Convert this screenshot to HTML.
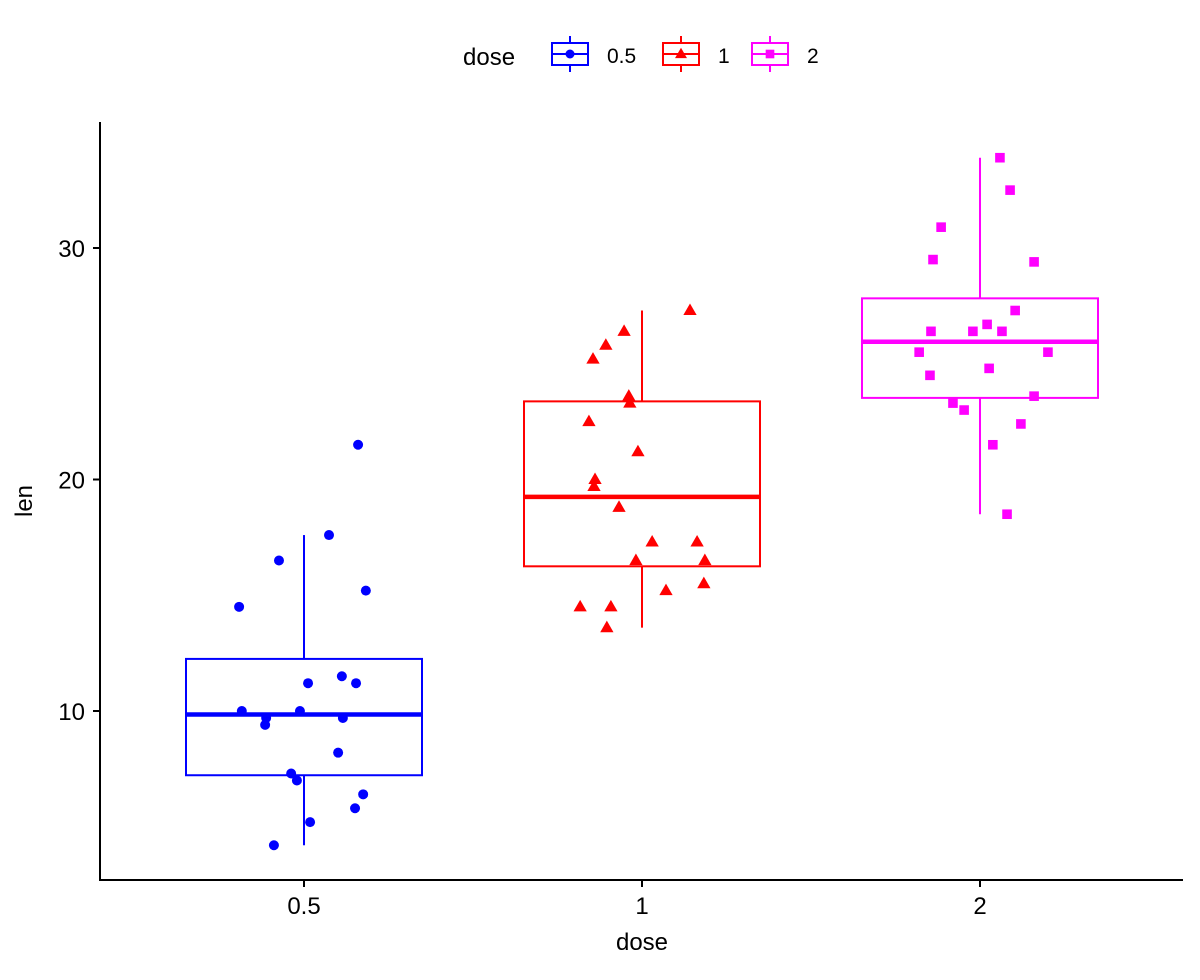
<!DOCTYPE html>
<html><head><meta charset="utf-8"><style>
body{margin:0;background:#fff;}
svg text{font-family:"Liberation Sans",Arial,sans-serif;}
</style></head><body>
<svg id="chart" width="1200" height="975" xmlns="http://www.w3.org/2000/svg">
<g id="legend">
<text x="463" y="65" font-size="24" fill="#000">dose</text>
</g>
<g id="axes">
<line x1="100" y1="122" x2="100" y2="881" stroke="#000" stroke-width="2"/>
<line x1="99" y1="880" x2="1183" y2="880" stroke="#000" stroke-width="2"/>
<text x="32" y="501" font-size="24" text-anchor="middle" transform="rotate(-90 32 501)">len</text>
<text x="642" y="950" font-size="24" text-anchor="middle">dose</text>
</g>
<g id="marks"></g>
</svg>
<script>
const categories = ["0.5", "1", "2"];
const colors = ["#0000FF", "#FF0000", "#FF00FF"];
const yTicks = [10, 20, 30];
const len05 = [4.2,11.5,7.3,5.8,6.4,10,11.2,11.2,5.2,7.0,15.2,21.5,17.6,9.7,14.5,10.0,8.2,9.4,16.5,9.7];
const len1 = [16.5,16.5,15.2,17.3,22.5,17.3,13.6,14.5,18.8,15.5,19.7,23.3,23.6,26.4,20.0,25.2,25.8,21.2,14.5,27.3];
const len2 = [23.6,18.5,33.9,25.5,26.4,32.5,26.7,21.5,23.3,29.5,25.5,26.4,22.4,24.5,24.8,30.9,26.4,27.3,29.4,23.0];
const jit05 = [-0.089,0.112,-0.038,0.151,0.175,-0.012,0.012,0.154,0.018,-0.021,0.183,0.160,0.074,-0.112,-0.192,-0.184,0.101,-0.115,-0.074,0.115];
const jit1 = [-0.018,0.186,0.071,0.030,-0.157,0.163,-0.104,-0.092,-0.068,0.183,-0.142,-0.036,-0.039,-0.053,-0.139,-0.145,-0.107,-0.012,-0.183,0.142];
const jit2 = [0.160,0.080,0.059,-0.180,-0.145,0.089,0.021,0.038,-0.080,-0.139,0.201,0.065,0.121,-0.148,0.027,-0.115,-0.021,0.104,0.160,-0.047];
const values = [len05, len1, len2];
const jitters = [jit05, jit1, jit2];

function yScale(v){ return 711 - (v - 10) * 23.15; }
function xScale(i){ return 304 + i * 338; }
const HALF = 118;
function q(arr, p){ const s=[...arr].sort((a,b)=>a-b); const h=(s.length-1)*p; const lo=Math.floor(h); return s[lo]+(h-lo)*((s[Math.min(lo+1,s.length-1)])-s[lo]); }
const NS="http://www.w3.org/2000/svg";
function mk(tag, attrs, parent){ const e=document.createElementNS(NS,tag); for(const k in attrs) e.setAttribute(k,attrs[k]); parent.appendChild(e); return e; }
function marker(shape, cx, cy, col, parent, sc){
  sc = sc || 1; let e;
  if(shape===0) e=mk('circle',{cx:cx,cy:cy,r:5*sc,fill:col},parent);
  else if(shape===1){ const s=7*sc; e=mk('polygon',{points:`${cx},${cy-s} ${cx+s*0.95},${cy+s*0.65} ${cx-s*0.95},${cy+s*0.65}`,fill:col},parent); }
  else { const s=4.8*sc; e=mk('rect',{x:cx-s,y:cy-s,width:2*s,height:2*s,fill:col},parent); }
  return e;
}
const axes=document.getElementById('axes');
yTicks.forEach(t=>{
  const y=yScale(t);
  const tk=mk('line',{x1:93,y1:y,x2:100,y2:y,stroke:'#000','stroke-width':2},axes);
  
  
  const lb=mk('text',{x:85,y:y+9,'font-size':24,'text-anchor':'end',fill:'#000'},axes);
  lb.textContent=t;
  
  
});
categories.forEach((c,i)=>{
  const x=xScale(i);
  const tk=mk('line',{x1:x,y1:880,x2:x,y2:887,stroke:'#000','stroke-width':2},axes);
  
  
  const lb=mk('text',{x:x,y:914,'font-size':24,'text-anchor':'middle',fill:'#000'},axes);
  lb.textContent=c;
  
  
});
const marks=document.getElementById('marks');
categories.forEach((c,i)=>{
  const d=values[i], col=colors[i], x=xScale(i);
  const q1=q(d,0.25), med=q(d,0.5), q3=q(d,0.75), iqr=q3-q1;
  const lo=Math.min(...d.filter(v=>v>=q1-1.5*iqr)), hi=Math.max(...d.filter(v=>v<=q3+1.5*iqr));
  const g=mk('g',{},marks);
  
  
  mk('line',{x1:x,y1:yScale(hi),x2:x,y2:yScale(q3),stroke:col,'stroke-width':2},g);
  mk('line',{x1:x,y1:yScale(q1),x2:x,y2:yScale(lo),stroke:col,'stroke-width':2},g);
  mk('rect',{x:x-HALF,y:yScale(q3),width:2*HALF,height:yScale(q1)-yScale(q3),fill:'none',stroke:col,'stroke-width':2},g);
  mk('line',{x1:x-HALF,y1:yScale(med),x2:x+HALF,y2:yScale(med),stroke:col,'stroke-width':4.5},g);
  d.forEach((v,j)=>{
    const p=marker(i, x+jitters[i][j]*338, yScale(v), col, g);
    
    
  });
});
const legend=document.getElementById('legend');
const lx=[552,663,752];
categories.forEach((c,i)=>{
  const g=mk('g',{},legend);
  
  
  const x=lx[i], col=colors[i];
  mk('line',{x1:x+18,y1:36,x2:x+18,y2:72,stroke:col,'stroke-width':2},g);
  mk('rect',{x:x,y:43,width:36,height:22,fill:'#fff',stroke:col,'stroke-width':2},g);
  mk('line',{x1:x,y1:54,x2:x+36,y2:54,stroke:col,'stroke-width':2},g);
  marker(i,x+18,54,col,g,0.9);
  const t=mk('text',{x:x+55,y:63,'font-size':21,fill:'#000'},g);
  t.textContent=c;
});
</script>
</body></html>
